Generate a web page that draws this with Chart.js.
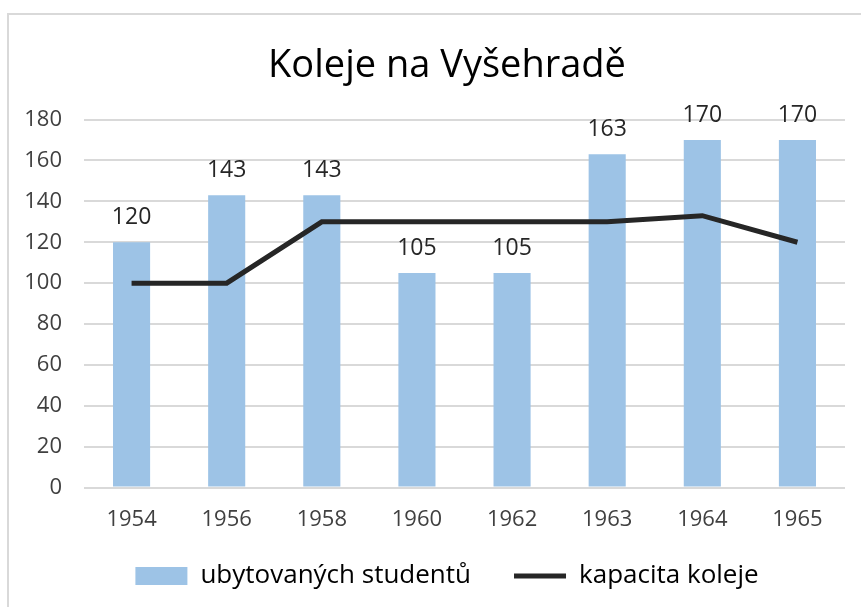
<!DOCTYPE html>
<html>
  <head>
    <title>Koleje na Vyšehradě</title>
    <script src="https://cdn.jsdelivr.net/npm/chart.js"></script>
    <style>
      body {
        margin: 0;
        overflow: hidden;
        background: #ffffff;
      }

      #frame {
        position: absolute;
        left: 7px;
        top: 13px;
        border-left: 2px solid #d9d9d9;
        border-top: 2px solid #d9d9d9;
      }

      canvas {
        display: block;
      }
    </style>
  </head>
  <body>
    <div id="frame">
      <canvas id="comboChart" width="876" height="608"></canvas>
    </div>

    <script>
      // Chart data
      const years = ["1954", "1956", "1958", "1960", "1962", "1963", "1964", "1965"];
      const students = [120, 143, 143, 105, 105, 163, 170, 170];
      const capacity = [100, 100, 130, 130, 130, 130, 133, 120];
      const yTicks = [0, 20, 40, 60, 80, 100, 120, 140, 160, 180];

      const fontFamily = "'Open Sans', sans-serif";

      // Value labels above the bars (bar dataset is index 1)
      const barLabels = {
        id: "barLabels",
        afterDatasetsDraw(chart) {
          const ctx = chart.ctx;
          const meta = chart.getDatasetMeta(1);
          ctx.save();
          ctx.font = "23px " + fontFamily;
          ctx.fillStyle = "#262626";
          ctx.textAlign = "center";
          ctx.textBaseline = "alphabetic";
          meta.data.forEach((bar, i) => {
            ctx.fillText(String(students[i]), bar.x, bar.y - 18);
          });
          ctx.restore();
        },
      };

      // Legend needs wide gaps between items but a tight box, so lift it a bit when drawn
      const legendLift = {
        id: "legendLift",
        afterUpdate(chart) {
          const lg = chart.legend;
          if (!lg || lg._lifted) return;
          const draw = lg.draw.bind(lg);
          lg.draw = function () {
            chart.ctx.save();
            chart.ctx.translate(0, -24);
            draw();
            chart.ctx.restore();
          };
          lg._lifted = true;
        },
      };

      const ctx = document.getElementById("comboChart").getContext("2d");
      new Chart(ctx, {
        data: {
          labels: years,
          datasets: [
            {
              type: "line",
              label: "kapacita koleje",
              data: capacity,
              borderColor: "#262626",
              backgroundColor: "#262626",
              borderWidth: 5,
              pointRadius: 0,
              pointStyle: "line",
              tension: 0,
              order: 0,
            },
            {
              type: "bar",
              label: "ubytovaných studentů",
              data: students,
              backgroundColor: "#9dc3e6",
              borderWidth: 0,
              categoryPercentage: 1,
              barPercentage: 0.39,
              pointStyle: "rect",
              order: 1,
            },
          ],
        },
        options: {
          responsive: false,
          animation: false,
          layout: {
            padding: 0,
          },
          plugins: {
            title: {
              display: true,
              text: "Koleje na Vyšehradě",
              color: "#000000",
              font: { family: fontFamily, size: 38, weight: "normal" },
              padding: { top: 28, bottom: 31 },
            },
            legend: {
              position: "bottom",
              reverse: true,
              labels: {
                usePointStyle: true,
                pointStyleWidth: 52,
                boxHeight: 18,
                color: "#000000",
                font: { family: fontFamily, size: 26 },
                padding: 43,
              },
            },
            tooltip: { enabled: false },
          },
          scales: {
            x: {
              grid: { display: false },
              border: { display: false },
              ticks: {
                color: "#404040",
                font: { family: fontFamily, size: 22 },
                padding: 11,
              },
            },
            y: {
              min: 0,
              max: 180,
              afterFit(scale) {
                scale.width = 75;
              },
              afterBuildTicks(scale) {
                scale.ticks = yTicks.map((v) => ({ value: v }));
              },
              grid: { color: "#d9d9d9", lineWidth: 2, drawTicks: false },
              border: { display: false },
              ticks: {
                color: "#404040",
                font: { family: fontFamily, size: 22 },
                padding: 22,
              },
            },
            // empty strip on the right so the plot ends where the reference does
            spacer: {
              type: "linear",
              position: "right",
              afterFit(scale) {
                scale.width = 40;
              },
              grid: { display: false },
              border: { display: false },
              ticks: { display: false },
            },
          },
        },
        plugins: [barLabels, legendLift],
      });
    </script>
  </body>
</html>
